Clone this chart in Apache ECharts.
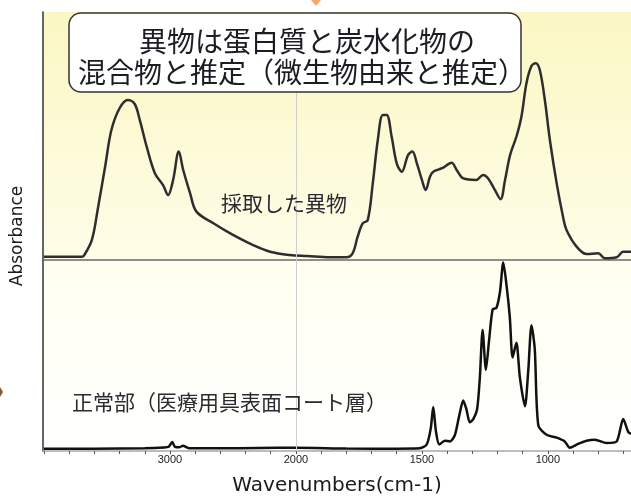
<!DOCTYPE html>
<html>
<head>
<meta charset="utf-8">
<script src="https://cdn.jsdelivr.net/npm/echarts@6/dist/echarts.min.js"></script>
<style>
  html, body { margin: 0; padding: 0; background: #ffffff; }
  #chart { width: 631px; height: 497px; }
</style>
</head>
<body>
<div id="chart"></div>
<script>
// IR spectra: foreign matter (top) and normal coating layer (bottom)
// Wavenumber axis is split: scale doubles below 2000 cm-1.

const tickLabels = [3000, 2000, 1500, 1000];

// Foreign matter sample
const topWn = [4000, 3700, 3680, 3620, 3570, 3515, 3465, 3400, 3335, 3280, 3240, 3185, 3120, 3055,
  3015, 2975, 2930, 2895, 2840, 2790, 2655, 2500, 2340, 2205, 2050, 1955, 1865, 1800, 1775, 1755,
  1735, 1715, 1695, 1675, 1655, 1640, 1620, 1600, 1580, 1555, 1538, 1520, 1500, 1485, 1468, 1455,
  1420, 1382, 1362, 1335, 1285, 1257, 1237, 1210, 1188, 1170, 1150, 1125, 1105, 1085, 1065, 1048,
  1032, 1012, 992, 965, 940, 926, 886, 846, 800, 774, 727, 701, 670];
const topAbs = [0.013, 0.013, 0.020, 0.081, 0.215, 0.376, 0.524, 0.612, 0.645, 0.629, 0.565, 0.457, 0.350, 0.302,
  0.262, 0.323, 0.437, 0.363, 0.269, 0.195, 0.148, 0.101, 0.060, 0.033, 0.020, 0.016, 0.011, 0.011, 0.027, 0.094,
  0.148, 0.161, 0.309, 0.484, 0.585, 0.585, 0.497, 0.390, 0.356, 0.423, 0.437, 0.390, 0.323, 0.282, 0.336, 0.356,
  0.370, 0.392, 0.363, 0.329, 0.323, 0.343, 0.329, 0.282, 0.245, 0.323, 0.423, 0.497, 0.578, 0.713, 0.782, 0.793,
  0.766, 0.645, 0.484, 0.309, 0.175, 0.121, 0.054, 0.024, 0.027, 0.007, 0.011, 0.033, 0.033];

// Normal part (device surface coating)
const botWn = [4000, 3600, 3200, 3050, 3010, 2982, 2960, 2925, 2897, 2850, 2600, 2300, 2000, 1800, 1600,
  1508, 1481, 1465, 1455, 1444, 1431, 1409, 1389, 1369, 1352, 1336, 1323, 1310, 1296, 1281, 1270,
  1259, 1246, 1233, 1219, 1204, 1190, 1177, 1164, 1151, 1140, 1125, 1111, 1091, 1078, 1065, 1052,
  1038, 1005, 965, 933, 913, 880, 846, 813, 767, 727, 701, 681, 670];
const botAbs = [0.012, 0.012, 0.014, 0.018, 0.022, 0.047, 0.022, 0.020, 0.027, 0.015, 0.014, 0.016, 0.017, 0.013, 0.012,
  0.014, 0.034, 0.117, 0.230, 0.100, 0.034, 0.054, 0.050, 0.084, 0.184, 0.264, 0.217, 0.150, 0.167, 0.217, 0.384,
  0.634, 0.425, 0.584, 0.742, 0.750, 0.834, 0.987, 0.867, 0.700, 0.490, 0.567, 0.384, 0.234, 0.417, 0.659, 0.534,
  0.134, 0.085, 0.070, 0.050, 0.017, 0.037, 0.054, 0.059, 0.042, 0.050, 0.167, 0.100, 0.090];

// Split-scale mapping: above 2000 cm-1 one unit per cm-1, below it two units per cm-1.
function toAxis(wn) { return wn >= 2000 ? wn : 2 * wn - 2000; }
function fromAxis(u) { return u >= 2000 ? u : (u + 2000) / 2; }

const axisMin = -660;   // right edge (about 670 cm-1)
const axisMax = 4008;   // left edge

const minorTicks = [];
for (let u = -600; u <= 4000; u += 200) minorTicks.push(u);

const topData = topWn.map((w, i) => [toAxis(w), topAbs[i]]);
const botData = botWn.map((w, i) => [toAxis(w), botAbs[i]]);

const labelFont = '"Noto Sans CJK JP", "Noto Sans CJK SC", sans-serif';

const gridLine2000 = {
  silent: true,
  symbol: 'none',
  label: { show: false },
  lineStyle: { color: '#cfcfcf', width: 1, type: 'solid' },
  data: [{ xAxis: toAxis(2000) }]
};

const chart = echarts.init(document.getElementById('chart'), null, { renderer: 'canvas' });

chart.setOption({
  animation: false,
  backgroundColor: '#ffffff',
  grid: [
    {
      left: 43, right: 0, top: 12, height: 248,
      show: true, borderWidth: 0,
      backgroundColor: {
        type: 'linear', x: 0, y: 0, x2: 0, y2: 1,
        colorStops: [{ offset: 0, color: '#fbf7c3' }, { offset: 1, color: '#fefde8' }]
      }
    },
    {
      left: 43, right: 0, top: 260, height: 200,
      show: true, borderWidth: 0,
      backgroundColor: {
        type: 'linear', x: 0, y: 0, x2: 0, y2: 1,
        colorStops: [{ offset: 0, color: '#fffff0' }, { offset: 1, color: '#ffffff' }]
      }
    }
  ],
  xAxis: [
    {
      gridIndex: 0, type: 'value', inverse: true, min: axisMin, max: axisMax,
      axisLine: { show: true, onZero: false, lineStyle: { color: '#6a6a6a', width: 1.5 } },
      axisTick: { show: false }, axisLabel: { show: false }, splitLine: { show: false }
    },
    {
      gridIndex: 1, type: 'value', inverse: true, min: axisMin, max: axisMax,
      name: 'Wavenumbers(cm-1)', nameLocation: 'middle', nameGap: 25,
      nameTextStyle: { fontFamily: '"DejaVu Sans", sans-serif', fontSize: 20, color: '#1a1a1a' },
      axisLine: { show: true, onZero: false, lineStyle: { color: '#a8a8a8', width: 1.5 } },
      axisTick: { show: true, length: 3, customValues: minorTicks, lineStyle: { color: '#555555', width: 1 } },
      axisLabel: {
        show: true, margin: 3,
        customValues: tickLabels.map(toAxis),
        formatter: (v) => String(Math.round(fromAxis(v))),
        fontFamily: '"Liberation Sans", Arial, sans-serif', fontSize: 11, color: '#222222'
      },
      splitLine: { show: false }
    }
  ],
  yAxis: [
    {
      gridIndex: 0, type: 'value', min: 0, max: 1,
      axisLine: { show: true, onZero: false, lineStyle: { color: '#333333', width: 1.5 } },
      axisTick: { show: false }, axisLabel: { show: false }, splitLine: { show: false }
    },
    {
      gridIndex: 1, type: 'value', min: 0, max: 1,
      axisLine: { show: true, onZero: false, lineStyle: { color: '#333333', width: 1.5 } },
      axisTick: { show: false }, axisLabel: { show: false }, splitLine: { show: false }
    }
  ],
  series: [
    {
      name: '採取した異物', type: 'line', xAxisIndex: 0, yAxisIndex: 0,
      data: topData, showSymbol: false, smooth: 0.35,
      lineStyle: { color: '#2e2e2e', width: 2.5 },
      markLine: gridLine2000, z: 3
    },
    {
      name: '正常部', type: 'line', xAxisIndex: 1, yAxisIndex: 1,
      data: botData, showSymbol: false, smooth: 0.25,
      lineStyle: { color: '#111111', width: 2.5 },
      markLine: gridLine2000, z: 3
    }
  ],
  graphic: [
    // note box
    {
      type: 'rect', z: 100,
      shape: { x: 69, y: 13, width: 452, height: 79, r: 12 },
      style: { fill: '#ffffff', stroke: '#333333', lineWidth: 1.5 }
    },
    {
      type: 'text', z: 101,
      style: { text: '異物は蛋白質と炭水化物の', x: 307, y: 41, align: 'center', verticalAlign: 'middle',
        font: '28px ' + labelFont, fill: '#1c1c24' }
    },
    {
      type: 'text', z: 101,
      style: { text: '混合物と推定（微生物由来と推定）', x: 302, y: 72, align: 'center', verticalAlign: 'middle',
        font: '28px ' + labelFont, fill: '#1c1c24' }
    },
    // spectrum captions
    {
      type: 'text', z: 101,
      style: { text: '採取した異物', x: 221, y: 203, align: 'left', verticalAlign: 'middle',
        font: '21px ' + labelFont, fill: '#2a2a30' }
    },
    {
      type: 'text', z: 101,
      style: { text: '正常部（医療用具表面コート層）', x: 72, y: 402, align: 'left', verticalAlign: 'middle',
        font: '21px ' + labelFont, fill: '#2a2a30' }
    },
    // y axis title
    {
      type: 'text', z: 101, x: 18, y: 236, rotation: Math.PI / 2,
      style: { text: 'Absorbance', x: 0, y: 0, align: 'center', verticalAlign: 'middle',
        font: '17px "DejaVu Sans", sans-serif', fill: '#1a1a1a' }
    },
    // small pointer marks at the edges
    {
      type: 'polygon', z: 101,
      shape: { points: [[311, 0], [321, 0], [316, 6]] },
      style: { fill: '#f4a86c' }
    },
    {
      type: 'polygon', z: 101,
      shape: { points: [[0, 387], [3, 392], [0, 397]] },
      style: { fill: '#8a5a30' }
    }
  ]
});
</script>
</body>
</html>
